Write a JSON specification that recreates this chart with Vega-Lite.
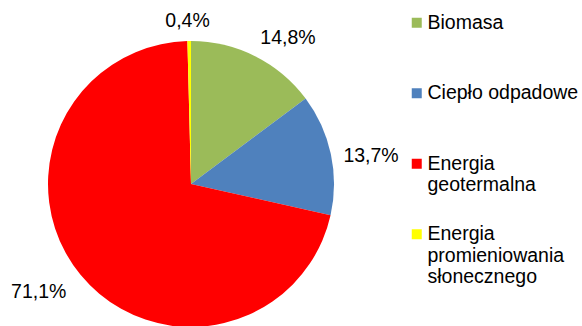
{
  "$schema": "https://vega.github.io/schema/vega-lite/v6.json",
  "width": 382,
  "height": 284,
  "autosize": {"type": "none"},
  "padding": {"left": 0, "top": 42, "right": 200, "bottom": 0},
  "background": "white",
  "config": {
    "view": {"stroke": null},
    "font": "Liberation Sans",
    "locale": {
      "number": {"decimal": ",", "thousands": " ", "grouping": [3], "currency": ["", " zł"]}
    }
  },
  "data": {
    "values": [
      {"k": "Biomasa", "v": 0.148},
      {"k": "Ciepło odpadowe", "v": 0.137},
      {"k": "Energia geotermalna", "v": 0.711},
      {"k": "Energia promieniowania słonecznego", "v": 0.004}
    ]
  },
  "encoding": {
    "theta": {"field": "v", "type": "quantitative", "stack": true},
    "order": {"field": "k", "sort": "ascending"}
  },
  "layer": [
    {
      "mark": {"type": "arc", "outerRadius": 143},
      "encoding": {
        "color": {
          "field": "k",
          "type": "nominal",
          "scale": {
            "domain": ["Biomasa", "Ciepło odpadowe", "Energia geotermalna", "Energia promieniowania słonecznego"],
            "range": ["#9BBB59", "#4F81BD", "#FF0000", "#FFFF00"]
          },
          "legend": {
            "title": null,
            "orient": "none",
            "legendX": 407,
            "legendY": -29,
            "padding": 0,
            "symbolType": "square",
            "symbolSize": 100,
            "symbolStrokeWidth": 0,
            "labelFont": "Liberation Sans",
            "labelFontSize": 19.5,
            "labelColor": "black",
            "labelBaseline": "middle",
            "labelOffset": 1,
            "labelLimit": 300,
            "rowPadding": 6.5,
            "labelExpr": "datum.label == 'Energia geotermalna' ? ['Energia', 'geotermalna', ''] : datum.label == 'Energia promieniowania słonecznego' ? ['Energia', 'promieniowania', 'słonecznego'] : [datum.label, '', '']",
            "encoding": {
              "labels": {
                "update": {
                  "dy": {"value": 21.5},
                  "fontSize": {"value": 19.5},
                  "lineHeight": {"value": 21.5}
                }
              }
            }
          }
        }
      }
    },
    {
      "mark": {"type": "text", "radius": 175, "dx": 18.5, "dy": 10.4, "fontSize": 19.5, "color": "black"},
      "encoding": {
        "text": {"condition": {"test": "datum.k === 'Biomasa'", "field": "v", "type": "quantitative", "format": ".1%"}, "value": ""}
      }
    },
    {
      "mark": {"type": "text", "radius": 175, "dx": 8.9, "dy": 8.9, "fontSize": 19.5, "color": "black"},
      "encoding": {
        "text": {"condition": {"test": "datum.k === 'Ciepło odpadowe'", "field": "v", "type": "quantitative", "format": ".1%"}, "value": ""}
      }
    },
    {
      "mark": {"type": "text", "radius": 175, "dx": -17.1, "dy": -3.1, "fontSize": 19.5, "color": "black"},
      "encoding": {
        "text": {"condition": {"test": "datum.k === 'Energia geotermalna'", "field": "v", "type": "quantitative", "format": ".1%"}, "value": ""}
      }
    },
    {
      "mark": {"type": "text", "radius": 175, "dx": -1.3, "dy": 12, "fontSize": 19.5, "color": "black"},
      "encoding": {
        "text": {"condition": {"test": "datum.k === 'Energia promieniowania słonecznego'", "field": "v", "type": "quantitative", "format": ".1%"}, "value": ""}
      }
    }
  ]
}
